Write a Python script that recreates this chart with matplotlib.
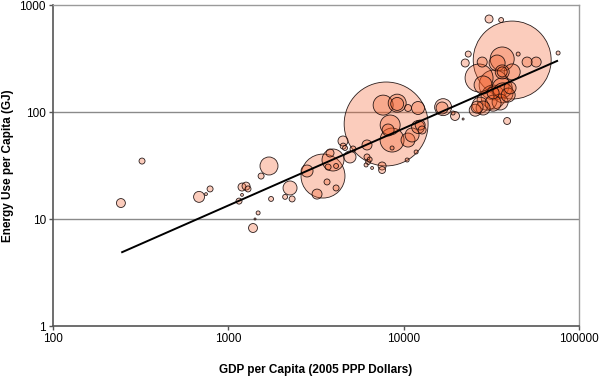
import numpy as np
import matplotlib as mpl
mpl.use('Agg')
import matplotlib.pyplot as plt

# GDP per capita (2005 PPP $), energy use per capita (GJ), bubble weight
gdp = [244, 322, 681, 787, 746, 1151, 1197, 1262, 1295, 1197,
       1538, 1706, 1753, 1479, 1420, 1383, 2108, 2249, 2311, 3467,
       3954, 3802, 3707, 4117, 3656, 4117, 3206, 2812, 4943, 4508,
       4630, 5143, 6180, 6180, 6105, 6270, 7535, 7535, 6607, 7943,
       7638, 9185, 9185, 12080, 10590, 8375, 8150, 12080, 12420, 12740,
       8590, 10590, 11170, 8590, 11780, 10470, 16790, 16560, 19630, 19130,
       21830, 38900, 41590, 30690, 35970, 23350, 22440, 76000, 50580, 56990,
       44980, 36480, 36480, 36480, 26920, 41590, 32810, 28380, 36480, 36900,
       32370, 29930, 27300, 26240, 28380, 32370, 35480, 39450, 40460, 32370,
       34120, 28050, 25590, 4520, 6400]
energy = [14.1, 34.8, 16.1, 19.1, 17.1, 14.7, 19.9, 20.3, 19.1, 16.8,
          25.2, 31.3, 15.4, 11.4, 10.0, 8.24, 16.1, 19.5, 15.4, 25.2,
          35.6, 41.4, 30.6, 31.3, 22.2, 19.5, 17.1, 28.1, 38.0, 53.6,
          46.1, 45.1, 49.2, 38.0, 32.0, 34.1, 31.3, 28.7, 30.0, 77.3,
          116, 121, 119, 109, 109, 75.6, 67.9, 72.4, 75.6, 67.9,
          54.7, 54.7, 61.0, 46.1, 42.3, 35.6, 111, 109, 91.8, 97.9,
          86.0, 82.4, 306, 740, 724, 348, 287, 356, 293, 293,
          348, 313, 237, 237, 208, 237, 179, 179, 168, 151,
          138, 129, 116, 111, 109, 121, 124, 144, 168, 151,
          287, 293, 104, 48.0, 36.0]
weight = [20, 9, 30, 9, 2, 9, 16, 16, 9, 2,
          9, 81, 6, 4, 1, 20, 6, 49, 9, 484,
          121, 16, 9, 6, 9, 9, 25, 36, 36, 25,
          6, 9, 25, 9, 4, 6, 16, 12, 2, 1764,
          100, 81, 42, 42, 12, 100, 36, 42, 25, 16,
          144, 49, 49, 4, 4, 4, 72, 36, 20, 4,
          1, 12, 1521, 16, 6, 9, 16, 4, 25, 25,
          4, 144, 49, 25, 196, 64, 225, 81, 100, 100,
          144, 100, 64, 36, 49, 64, 64, 49, 36, 36,
          64, 25, 36, 9, 6]

trend_gdp = [248, 75000]
trend_energy = [4.9, 300]


def main():
    x = np.array(gdp, dtype=float)
    y = np.array(energy, dtype=float)
    w = np.array(weight, dtype=float)
    order = np.argsort(-w)
    x, y, w = x[order], y[order], w[order]

    fig = plt.figure(figsize=(6, 3.79), dpi=100)
    ax = fig.add_axes([0.0883, 0.1398, 0.8767, 0.847])
    ax.set_xscale('log')
    ax.set_yscale('log')
    ax.set_xlim(100, 100000)
    ax.set_ylim(1, 1000)

    for yy in (10, 100):
        ax.axhline(yy, color='#8a8a8a', lw=1.0, zorder=0)

    ax.scatter(x, y, s=w * 2.07, facecolor=(0.95, 0.35, 0.13, 0.3),
               edgecolor=(0.08, 0.03, 0.03, 0.9), linewidth=0.6, zorder=2)
    ax.plot(trend_gdp, trend_energy, color='black', lw=1.4, zorder=3)

    ax.minorticks_off()
    ax.set_xticks([100, 1000, 10000, 100000])
    ax.set_xticklabels(['100', '1000', '10000', '100000'])
    ax.set_yticks([1, 10, 100, 1000])
    ax.set_yticklabels(['1', '10', '100', '1000'])
    ax.tick_params(axis='both', which='major', length=3, width=1,
                   color='#555555', labelsize=8.5, pad=2)
    for sid in ('left', 'bottom'):
        ax.spines[sid].set_color('#555555')
        ax.spines[sid].set_linewidth(1.2)
    for sid in ('top', 'right'):
        ax.spines[sid].set_color('#9a9a9a')
        ax.spines[sid].set_linewidth(1.0)

    ax.set_xlabel('GDP per Capita (2005 PPP Dollars)', fontsize=8.5,
                  fontweight='bold', labelpad=14)
    ax.set_ylabel('Energy Use per Capita (GJ)', fontsize=8.5,
                  fontweight='bold', labelpad=4)

    fig.savefig('out.png', dpi=100)


if __name__ == '__main__':
    plt.rcParams['font.family'] = ['Liberation Sans', 'DejaVu Sans']
    main()
